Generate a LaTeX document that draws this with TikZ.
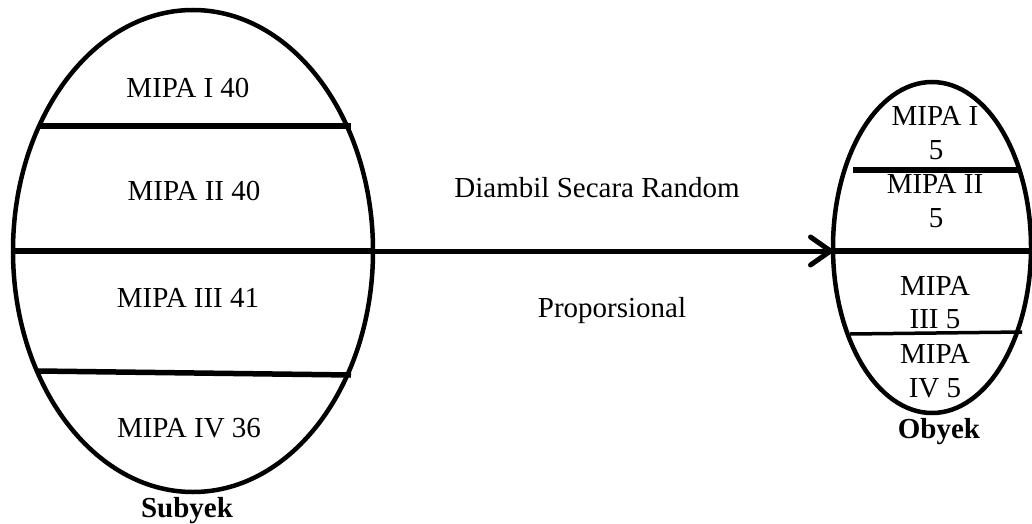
\documentclass[tikz,border=0pt]{standalone}
\usepackage{fontspec}
\setmainfont{Liberation Serif}
\usetikzlibrary{shapes.geometric,arrows.meta}
\begin{document}
\begin{tikzpicture}[x=1pt,y=-1pt,
  group/.style={draw, ellipse, line width=4.5pt, inner sep=0pt, outer sep=0pt},
  lbl/.style={anchor=base, inner sep=0pt, font=\fontsize{29}{34}\selectfont},
  ttl/.style={anchor=base, inner sep=0pt, font=\fontsize{29}{34}\selectfont\bfseries},
  divider/.style={line width=5.5pt},
  thindivider/.style={line width=3.5pt}]
\useasboundingbox (0,0) rectangle (1032,524);
\node[group, minimum width=360pt, minimum height=482pt] (subj) at (193,251) {};
\node[group, minimum width=198pt, minimum height=331pt] (obj) at (932,247.5) {};
% dividers
\draw[divider] (40,126) -- (351,126);
\draw[divider] (subj.west) -- (subj.east);
\draw[divider] (38,371) -- (351,375);
\draw[divider] (853,170) -- (1019,170);
\draw[divider] (obj.west |- subj.east) -- (1032,251);
\draw[thindivider] (850,334) -- (1022,332);
% arrow
\draw[line width=5pt, line cap=round, -{Straight Barb[length=20pt,width=28pt,round]}] (subj.east) -- (subj.east -| obj.west);
% labels
\node[lbl] (s1) at (188,98) {MIPA I 40};
\node[lbl] (s2) at (194,200) {MIPA II 40};
\node[lbl] (s3) at (188,307) {MIPA III 41};
\node[lbl] (s4) at (189,437) {MIPA IV 36};
\node[ttl] (subjlbl) at (187,517) {Subyek};
\node[lbl] (d) at (597,197) {Diambil Secara Random};
\node[lbl] (p) at (612,317) {Proporsional};
\node[lbl] (o1a) at (935,125) {MIPA I};
\node[lbl] (o1b) at (936,159) {5};
\node[lbl] (o2a) at (935,193) {MIPA II};
\node[lbl] (o2b) at (936,227) {5};
\node[lbl] (o3a) at (935,295) {MIPA};
\node[lbl] (o3b) at (935,328) {III 5};
\node[lbl] (o4a) at (935,363) {MIPA};
\node[lbl] (o4b) at (935,397) {IV 5};
\node[ttl] (objlbl) at (939,438) {Obyek};
\end{tikzpicture}
\end{document}
